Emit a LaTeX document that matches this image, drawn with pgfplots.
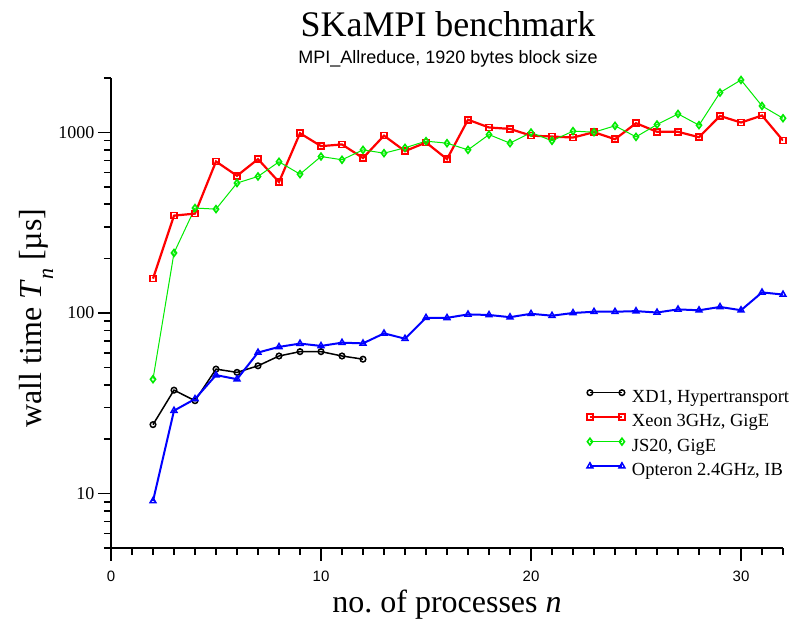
\documentclass[border=0pt]{standalone}
\usepackage{fontspec}
\setmainfont{Liberation Serif}
\newfontfamily\helv{Liberation Sans}
\usepackage{pgfplots}
\pgfplotsset{compat=1.18}

\definecolor{xdblack}{RGB}{0,0,0}
\definecolor{xeonred}{RGB}{255,0,0}
\definecolor{jsgreen}{RGB}{0,235,0}
\definecolor{optblue}{RGB}{0,0,255}

\begin{document}
\begin{tikzpicture}[x=1bp,y=1bp]
\useasboundingbox (-111,-71) rectangle (685,548);
\begin{axis}[
  at={(0,0)}, anchor=south west,
  scale only axis, width=672bp, height=470bp,
  ymode=log, xmin=0, xmax=32, ymin=5, ymax=2000,
  axis x line*=bottom, axis y line*=left,
  axis line style={line width=1.8bp},
  every tick/.style={line width=1.6bp, black},
  tick align=outside,
  major tick length=13bp, minor tick length=7bp,
  xtick={0,10,20,30}, xticklabels={0,10,20,30},
  minor xtick={1,...,32},
  ytick={10,100,1000}, yticklabels={10,100,1000},
  minor ytick={5,6,7,8,9,20,30,40,50,60,70,80,90,200,300,400,500,600,700,800,900,2000},
  x tick label style={font=\helv\fontsize{15bp}{18bp}\selectfont},
  xticklabel shift=7bp,
  y tick label style={font=\fontsize{18bp}{21bp}\selectfont},
  xlabel={no.\ of processes \textit{n}},
  ylabel={wall time \textit{T}\raisebox{-0.35em}{\fontsize{22bp}{24bp}\selectfont\textit{n}} [µs]},
  every axis x label/.style={font=\fontsize{32bp}{36bp}\selectfont, at={(axis description cs:0.5,-0.1362)}, anchor=base},
  every axis y label/.style={font=\fontsize{32bp}{36bp}\selectfont, at={(axis description cs:-0.1027,0.489)}, rotate=90, anchor=base},
  legend image code/.code={\draw[#1] plot coordinates {(0bp,5bp) (32bp,5bp)};},
  legend style={draw=none, fill=none, at={(0.7035,0.3426)}, anchor=north west,
    font=\fontsize{18.5bp}{21bp}\selectfont, row sep=7.5bp,
    nodes={inner ysep=0pt, text height=13bp, text depth=4bp},
    /tikz/every odd column/.append style={column sep=5bp}},
  legend cell align=left,
]
\addplot[xdblack, line width=1.5bp, mark=o, mark size=2.8bp, mark options={line width=1.5bp}]
  coordinates {(2,24.1)(3,37.4)(4,32.7)(5,48.9)(6,46.9)(7,51)(8,57.8)(9,61.1)(10,61.1)(11,57.8)(12,55.5)};
\addlegendentry{XD1, Hypertransport}
\addplot[xeonred, line width=2.2bp, mark=square, mark size=3bp, mark options={line width=1.6bp}]
  coordinates {(2,155)(3,346)(4,355)(5,690)(6,575)(7,711)(8,531)(9,989)(10,839)(11,857)(12,721)(13,959)(14,787)(15,879)(16,711)(17,1175)(18,1064)(19,1045)(20,959)(21,948)(22,936)(23,1002)(24,916)(25,1124)(26,1007)(27,1007)(28,940)(29,1233)(30,1133)(31,1240)(32,901)};
\addlegendentry{Xeon 3GHz, GigE}
\addplot[jsgreen, line width=1bp, mark=diamond, mark size=3.4bp, mark options={line width=1.6bp}]
  coordinates {(2,43)(3,215)(4,381)(5,376)(6,524)(7,570)(8,687)(9,587)(10,735)(11,705)(12,800)(13,767)(14,821)(15,894)(16,871)(17,800)(18,972)(19,871)(20,998)(21,898)(22,1016)(23,1002)(24,1087)(25,944)(26,1105)(27,1265)(28,1096)(29,1660)(30,1950)(31,1400)(32,1197)};
\addlegendentry{JS20, GigE}
\addplot[optblue, line width=2bp, mark=triangle, mark size=3.4bp, mark options={line width=1.5bp}]
  coordinates {(2,9.1)(3,28.8)(4,33.4)(5,45.3)(6,43)(7,60.4)(8,64.9)(9,67.7)(10,65.7)(11,68.5)(12,67.9)(13,77.1)(14,72.1)(15,94.1)(16,94)(17,98.2)(18,97.5)(19,94.8)(20,99)(21,96.6)(22,100)(23,101.6)(24,101.6)(25,102.4)(26,100.6)(27,104.7)(28,103.5)(29,108)(30,103.6)(31,130)(32,126.5)};
\addlegendentry{Opteron 2.4GHz, IB}
\end{axis}
\node[anchor=base, font=\fontsize{36bp}{40bp}\selectfont] at (337,511) {SKaMPI benchmark};
\node[anchor=base, font=\helv\fontsize{18bp}{21bp}\selectfont] at (337,484) {MPI\_Allreduce, 1920 bytes block size};
\end{tikzpicture}
\end{document}
